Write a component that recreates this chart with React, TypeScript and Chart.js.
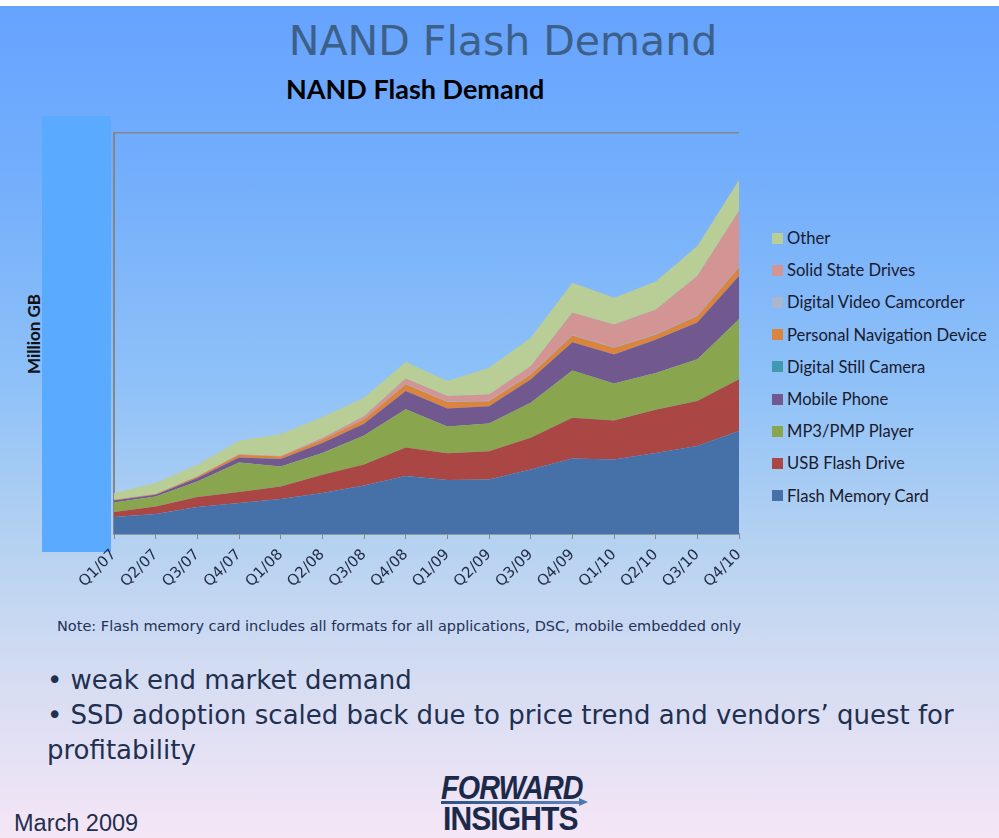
import React, { useEffect, useRef } from 'react';
import { Chart, registerables } from 'chart.js';

Chart.register(...registerables);

// ---- data ----
const quarters = ['Q1/07', 'Q2/07', 'Q3/07', 'Q4/07', 'Q1/08', 'Q2/08', 'Q3/08', 'Q4/08', 'Q1/09', 'Q2/09', 'Q3/09', 'Q4/09', 'Q1/10', 'Q2/10', 'Q3/10', 'Q4/10'];
const flashMemoryCard = [17, 20, 27, 31, 35, 41, 48.5, 58, 54, 54.5, 64.5, 75.5, 74.5, 81, 88, 103];
const usbFlashDrive = [5, 7.6, 10, 11, 12.6, 18.3, 21, 28.4, 26.7, 28.3, 31.7, 40.7, 39, 43.3, 45, 51.7];
const mp3PmpPlayer = [9.6, 10, 15.6, 29.6, 20, 21.7, 29, 38.3, 26.7, 27.7, 35, 47.3, 37, 36.7, 41.7, 60];
const mobilePhone = [2, 1.7, 3.4, 5, 7.4, 10, 11.7, 18.3, 18, 17.3, 23.3, 28.3, 29, 33.3, 36.7, 43.3];
const digitalStillCamera = [0, 0, 0, 0, 0, 0, 0, 0, 0, 0, 0, 0, 0, 0, 0, 0];
const personalNavigation = [0.7, 0.7, 1.6, 2.7, 2.6, 3.3, 4.3, 6.7, 6.6, 5, 5, 6.7, 6.7, 5, 6.6, 8.4];
const digitalVideoCamcorder = [0, 0, 0, 0, 0, 0, 0, 0.5, 0.5, 0.5, 0.5, 0.5, 0.5, 0.5, 0.5, 0.5];
const solidStateDrives = [0, 0, 0, 0.5, 0.5, 1.7, 3.3, 5.2, 5.5, 6.2, 7.8, 22.2, 22.8, 24.5, 39.5, 56.1];
const other = [6.7, 11, 11.7, 13.5, 22, 21, 18.4, 16.6, 15, 26.7, 28.4, 30, 26.7, 28.3, 30, 31];

const seriesNames = ['Flash Memory Card', 'USB Flash Drive', 'MP3/PMP Player', 'Mobile Phone', 'Digital Still Camera', 'Personal Navigation Device', 'Digital Video Camcorder', 'Solid State Drives', 'Other'];
const seriesValues = [flashMemoryCard, usbFlashDrive, mp3PmpPlayer, mobilePhone, digitalStillCamera, personalNavigation, digitalVideoCamcorder, solidStateDrives, other];

// ---- styles ----
const seriesColors = ['#4571A8', '#AA4643', '#89A54E', '#71588F', '#4198AF', '#DB843D', '#A9B6CE', '#D29594', '#B9CD96'];
const yMax = 401;

export default function App() {
  const canvasRef = useRef<HTMLCanvasElement | null>(null);

  useEffect(() => {
    const canvas = canvasRef.current;
    if (!canvas) return;
    const chart = new Chart(canvas, {
      type: 'line',
      data: {
        labels: quarters,
        datasets: seriesNames.map((name, i) => ({
          label: name,
          data: seriesValues[i],
          backgroundColor: seriesColors[i],
          borderColor: seriesColors[i],
          borderWidth: 0,
          pointRadius: 0,
          pointHoverRadius: 0,
          tension: 0,
          fill: i === 0 ? 'origin' : '-1',
        })),
      },
      options: {
        responsive: false,
        animation: false,
        devicePixelRatio: 1,
        layout: { padding: { left: 40, right: 30, top: 10, bottom: 0 } },
        plugins: {
          legend: { display: false },
          tooltip: { enabled: false },
          title: { display: false },
        },
        scales: {
          x: {
            offset: false,
            grid: {
              display: true,
              drawOnChartArea: false,
              drawTicks: true,
              tickLength: 5,
              color: '#868686',
            },
            border: { display: true, color: '#868686', width: 1.5 },
            ticks: {
              minRotation: 45,
              maxRotation: 45,
              autoSkip: false,
              padding: 7,
              color: '#1F2A44',
              font: { family: 'DejaVu Sans', size: 15 },
            },
            afterFit: (axis: any) => {
              axis.height = 80;
            },
          },
          y: {
            stacked: true,
            min: 0,
            max: yMax,
            display: true,
            ticks: { display: false, stepSize: yMax },
            grid: { display: true, drawTicks: false, color: '#868686', lineWidth: 1.5 },
            border: { display: true, color: '#868686', width: 2 },
            afterFit: (axis: any) => {
              axis.width = 0;
            },
          },
        },
      },
    });
    return () => chart.destroy();
  }, []);

  const legendOrder = seriesNames.map((_, i) => i).reverse();

  return (
    <div style={{ position: 'fixed', left: 0, top: 0, width: 999, height: 838, background: '#ffffff', overflow: 'hidden' }}>
      <div
        style={{
          position: 'absolute',
          left: 0,
          top: 6,
          width: 999,
          height: 832,
          background: 'linear-gradient(to bottom, #66A3FF 0%, #73AEFC 20%, #8EC1F8 45%, #B6D2F1 65%, #D4DCF2 80%, #F5E6F6 100%)',
        }}
      />
      {/* main title */}
      <div style={{ position: 'absolute', left: 0, top: 16, width: 1006, textAlign: 'center', fontFamily: 'DejaVu Sans', fontSize: 41, color: '#3D6088', lineHeight: '50px' }}>
        NAND Flash Demand
      </div>
      {/* chart title */}
      <div style={{ position: 'absolute', left: 286, top: 73, fontFamily: 'Lato', fontWeight: 700, fontSize: 27, color: '#000', lineHeight: '32px', whiteSpace: 'nowrap' }}>
        NAND Flash Demand
      </div>
      {/* left blue block */}
      <div style={{ position: 'absolute', left: 42, top: 116, width: 69, height: 436, background: '#5AAAFF' }} />
      {/* y axis title */}
      <div
        style={{
          position: 'absolute',
          left: 33,
          top: 334,
          transform: 'translate(-50%, -50%) rotate(-90deg)',
          fontFamily: 'Lato',
          fontWeight: 700,
          fontSize: 17,
          color: '#111',
          whiteSpace: 'nowrap',
        }}
      >
        Million GB
      </div>
      <canvas ref={canvasRef} width={695} height={491} style={{ position: 'absolute', left: 74, top: 123, width: 695, height: 491 }} />
      {/* legend */}
      {legendOrder.map((idx, row) => (
        <div key={seriesNames[idx]} style={{ position: 'absolute', left: 772, top: 238 + row * 32.2 - 10, height: 20, display: 'flex', alignItems: 'center', whiteSpace: 'nowrap' }}>
          <span style={{ display: 'inline-block', width: 11, height: 11, background: seriesColors[idx], marginRight: 4 }} />
          <span style={{ fontFamily: 'Lato', fontSize: 16.6, color: '#1A1A2E' }}>{seriesNames[idx]}</span>
        </div>
      ))}
      {/* note */}
      <div style={{ position: 'absolute', left: 57, top: 618, fontFamily: 'DejaVu Sans', fontSize: 14.5, color: '#1F3258', whiteSpace: 'nowrap' }}>
        Note: Flash memory card includes all formats for all applications, DSC, mobile embedded only
      </div>
      {/* bullets */}
      <div style={{ position: 'absolute', left: 47, top: 663, fontFamily: 'DejaVu Sans', fontSize: 26, color: '#1F3050', lineHeight: '35px', whiteSpace: 'nowrap' }}>
        <div>• weak end market demand</div>
        <div>• SSD adoption scaled back due to price trend and vendors’ quest for</div>
        <div>profitability</div>
      </div>
      {/* date */}
      <div style={{ position: 'absolute', left: 14, top: 810, fontFamily: 'Liberation Sans', fontSize: 23.5, color: '#1F2F4F', whiteSpace: 'nowrap' }}>
        March 2009
      </div>
      {/* logo */}
      <div style={{ position: 'absolute', left: 441, top: 771, width: 150, height: 62 }}>
        <div style={{ position: 'absolute', left: 0, top: 0, fontFamily: 'Liberation Sans', fontWeight: 700, fontStyle: 'italic', fontSize: 33, color: '#1B2A4A', transform: 'scaleX(0.87)', transformOrigin: 'left top', lineHeight: '33px', letterSpacing: -1 }}>
          FORWARD
        </div>
        <div style={{ position: 'absolute', left: 0, top: 30, width: 140, height: 3, background: 'linear-gradient(to right, #2C4F80, #5E86BC)' }} />
        <div style={{ position: 'absolute', left: 138, top: 27, width: 0, height: 0, borderTop: '4.5px solid transparent', borderBottom: '4.5px solid transparent', borderLeft: '9px solid #4E76AC' }} />
        <div style={{ position: 'absolute', left: 2, top: 31, fontFamily: 'Liberation Sans', fontWeight: 700, fontSize: 33, color: '#1B2A4A', transform: 'scaleX(0.91)', transformOrigin: 'left top', lineHeight: '33px', letterSpacing: -1 }}>
          INSIGHTS
        </div>
      </div>
    </div>
  );
}
